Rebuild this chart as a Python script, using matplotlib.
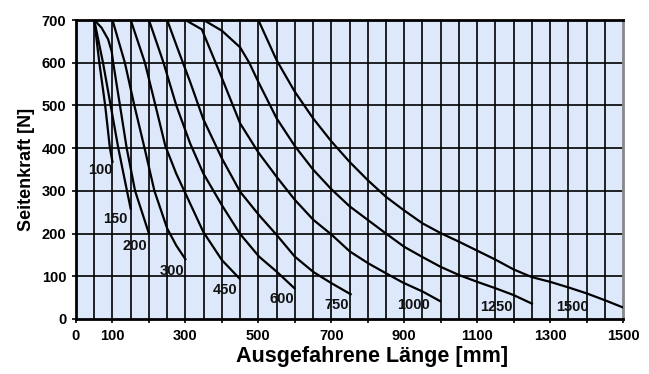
import numpy as np
import matplotlib.pyplot as plt

plt.rcParams['font.family'] = ['Liberation Sans', 'DejaVu Sans']

# Seitenkraft-Kurven je Hublaenge (Laenge in mm, Kraft in N)
x_100 = [50, 64, 80, 93, 100]
y_100 = [700, 600, 500, 400, 368]

x_150 = [50, 74, 95, 116, 135, 150]
y_150 = [700, 600, 500, 400, 320, 258]

x_200 = [50, 70, 88, 98, 102, 120, 139, 162, 200]
y_200 = [700, 682, 655, 626, 600, 503, 400, 300, 200]

x_300 = [100, 117, 134, 160, 188, 215, 250, 275, 300]
y_300 = [700, 650, 600, 500, 400, 300, 212, 172, 140]

x_450 = [150, 189, 215, 245, 275, 305, 349, 400, 448]
y_450 = [700, 600, 510, 405, 340, 285, 204, 138, 95]

x_600 = [200, 240, 275, 313, 349, 401, 450, 502, 550, 599]
y_600 = [700, 600, 500, 411, 341, 265, 199, 146, 111, 72]

x_750 = [250, 280, 313, 349, 400, 450, 502, 550, 600, 651, 700, 753]
y_750 = [700, 630, 555, 468, 376, 298, 243, 197, 146, 110, 84, 58]

x_1000 = [300, 345, 395, 450, 500, 550, 600, 651, 700, 751, 802, 850, 897, 951, 998]
y_1000 = [700, 678, 575, 458, 390, 333, 279, 232, 198, 158, 130, 107, 85, 64, 42]

x_1250 = [350, 400, 450, 475, 500, 550, 600, 650, 700, 750, 800, 850, 900, 950,
          1000, 1050, 1100, 1150, 1200, 1250]
y_1250 = [700, 675, 636, 600, 555, 470, 405, 350, 304, 264, 232, 200, 169, 145,
          122, 103, 87, 72, 56, 36]

x_1500 = [500, 550, 600, 650, 700, 750, 800, 850, 900, 950, 1000, 1050, 1100,
          1150, 1200, 1250, 1300, 1350, 1400, 1450, 1500]
y_1500 = [700, 606, 532, 470, 416, 368, 325, 286, 254, 224, 201, 181, 160,
          139, 116, 98, 87, 74, 60, 44, 27]

curves = [(x_100, y_100), (x_150, y_150), (x_200, y_200), (x_300, y_300),
          (x_450, y_450), (x_600, y_600), (x_750, y_750), (x_1000, y_1000),
          (x_1250, y_1250), (x_1500, y_1500)]

labels = ['100', '150', '200', '300', '450', '600', '750', '1000', '1250', '1500']
label_x = [66, 108, 162, 262, 409, 564, 715, 926, 1153, 1361]
label_y = [349, 234, 171, 112, 68, 47, 33, 33, 29, 29]

xtick_pos = np.arange(0, 1501, 100)
xtick_lab = ['0', '100', '', '300', '', '500', '', '700', '', '900', '',
             '1100', '', '1300', '', '1500']

fig = plt.figure(figsize=(6.49, 3.74), dpi=100)
ax = fig.add_axes([0.1171, 0.1471, 0.8429, 0.7994])
ax.set_facecolor('#dde8fa')

for gx in range(50, 1500, 50):
    ax.axvline(gx, color='black', lw=1.2, zorder=1)
for gy in range(100, 700, 100):
    ax.axhline(gy, color='black', lw=1.2, zorder=1)

for xs, ys in curves:
    ax.plot(xs, ys, color='black', lw=1.6, zorder=3)

for t, lx, ly in zip(labels, label_x, label_y):
    ax.text(lx, ly, t, ha='center', va='center', fontsize=10.5,
            fontweight='bold', color='#111111', zorder=4)

ax.set_xlim(0, 1500)
ax.set_ylim(0, 700)
ax.set_xticks(xtick_pos)
ax.set_xticklabels(xtick_lab)
ax.set_yticks(np.arange(0, 701, 100))
ax.tick_params(axis='both', length=3, width=1.2, labelsize=10.5, pad=4)
for lab in ax.get_xticklabels() + ax.get_yticklabels():
    lab.set_fontweight('bold')

ax.spines['left'].set_linewidth(2)
ax.spines['bottom'].set_linewidth(2)
ax.spines['top'].set_linewidth(2)
ax.spines['right'].set_color('#888888')
ax.spines['right'].set_linewidth(2)

ax.set_xlabel('Ausgefahrene Länge [mm]', fontsize=15.5, fontweight='bold')
ax.xaxis.set_label_coords(0.541, -0.09)
ax.set_ylabel('Seitenkraft [N]', fontsize=13, fontweight='bold', labelpad=5)

plt.savefig('out.png', dpi=100)
